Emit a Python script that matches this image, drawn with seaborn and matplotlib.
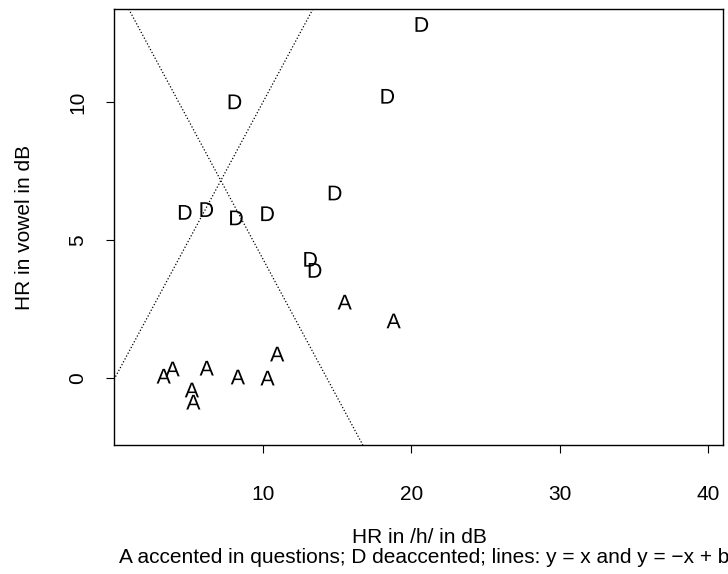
import matplotlib
matplotlib.use("Agg")
import matplotlib.pyplot as plt
import seaborn as sns
import pandas as pd

# Data
hr_h_A = [3.3, 3.9, 5.2, 5.3, 6.2, 8.3, 10.3, 10.95, 15.5, 18.8]
hr_v_A = [0.07, 0.33, -0.43, -0.87, 0.36, 0.04, 0.0, 0.87, 2.75, 2.07]
hr_h_D = [20.7, 18.4, 8.1, 14.85, 4.75, 6.2, 8.2, 10.3, 13.2, 13.5]
hr_v_D = [12.8, 10.2, 10.0, 6.7, 6.0, 6.1, 5.8, 5.95, 4.3, 3.9]
b_intercept = 14.3
x_ticks = [10, 20, 30, 40]
y_ticks = [0, 5, 10]
x_label = "HR in /h/ in dB"
y_label = "HR in vowel in dB"
subtitle = "A accented in questions; D deaccented; lines: y = x and y = \u2212x + b"

df = pd.DataFrame({
    "hr_h": hr_h_A + hr_h_D,
    "hr_v": hr_v_A + hr_v_D,
    "group": ["A"] * len(hr_h_A) + ["D"] * len(hr_h_D),
})

sns.set_style("white")
plt.rcParams["font.family"] = ["Liberation Sans", "DejaVu Sans"]
plt.rcParams["mathtext.fontset"] = "custom"
plt.rcParams["mathtext.rm"] = "Liberation Sans"
plt.rcParams["text.color"] = "black"
plt.rcParams["axes.labelcolor"] = "black"

FS = 15
W, H = 728, 574
fig = plt.figure(figsize=(W / 100, H / 100), dpi=100)
ax = fig.add_axes([114 / W, 1 - 445 / H, (723 - 114) / W, (445 - 9) / H])

sns.scatterplot(
    data=df, x="hr_h", y="hr_v", style="group",
    markers={"A": r"$\mathrm{A}$", "D": r"$\mathrm{D}$"},
    color="black", s=112, linewidth=0, legend=False, ax=ax,
)

ax.axline((0, 0), slope=1, color="black", lw=0.9, linestyle=(0, (1, 1.6)))
ax.axline((0, b_intercept), slope=-1, color="black", lw=0.9, linestyle=(0, (1, 1.6)))

ax.set_xlim(-0.05, 41.0)
ax.set_ylim(-2.42, 13.36)
ax.set_xticks(x_ticks)
ax.set_yticks(y_ticks)
ax.set_xticklabels([str(t) for t in x_ticks])
ax.set_yticklabels([str(t) for t in y_ticks])
ax.tick_params(axis="both", direction="out", length=6, width=0.8, color="black",
               labelsize=FS, labelcolor="black")
ax.tick_params(axis="x", pad=23, bottom=True)
ax.tick_params(axis="y", pad=13, left=True, labelrotation=90)
for lbl in ax.get_yticklabels():
    lbl.set_va("center")
ax.set_xlabel("")
ax.set_ylabel("")
for sp in ax.spines.values():
    sp.set_color("black")
    sp.set_linewidth(1.0)

fig.text(419 / W, 1 - 543 / H, x_label, ha="center", va="baseline", fontsize=FS, color="black")
fig.text(424 / W, 1 - 563 / H, subtitle, ha="center", va="baseline", fontsize=FS, color="black")
fig.text(25 / W, 1 - 227 / H, y_label, ha="center", va="center", rotation=90, fontsize=FS, color="black")

fig.savefig("out.png", dpi=100)
